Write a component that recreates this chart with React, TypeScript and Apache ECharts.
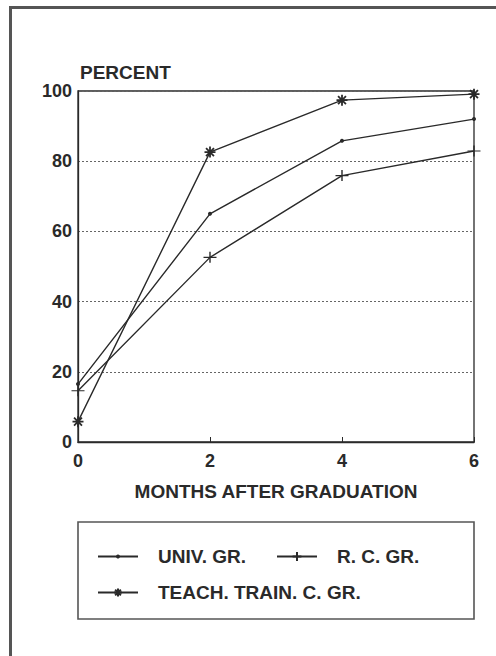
import React, { useEffect, useRef } from "react";
import * as echarts from "echarts";

const months = [0, 2, 4, 6];
const univGr = [16.5, 65, 85.8, 92];
const rcGr = [14.6, 52.6, 75.9, 82.9];
const teachGr = [5.8, 82.6, 97.4, 99.1];
const seriesNames = ["UNIV. GR.", "R. C. GR.", "TEACH. TRAIN. C. GR."];

const FONT = "Liberation Sans, Arial, Helvetica, sans-serif";
const INK = "#2a2a2a";

const plusPath = "path://M0,-5L0,5M-6,0L6,0";
const starPath = "path://M0,-5L0,5M-5,0L5,0M-3.6,-3.6L3.6,3.6M-3.6,3.6L3.6,-3.6";

export default function App() {
  const ref = useRef<HTMLDivElement>(null);
  useEffect(() => {
    if (!ref.current) return;
    const chart = echarts.init(ref.current, undefined, { renderer: "svg" });
    const toPts = (arr: number[]) => months.map((m, i) => [m, arr[i]]);
    const lineStyle = { color: INK, width: 1.4 };
    const legendText = {
      fontFamily: FONT,
      fontSize: 19,
      fontWeight: "bold" as const,
      color: INK,
      padding: [0, 0, 0, 15],
    };
    const legendBase = {
      orient: "horizontal" as const,
      padding: 0,
      itemWidth: 40,
      textStyle: legendText,
      selectedMode: false,
    };
    chart.setOption({
      animation: false,
      backgroundColor: "#fff",
      grid: {
        left: 78,
        right: 22,
        top: 91,
        bottom: 214,
        show: true,
        borderColor: INK,
        borderWidth: 1.3,
        backgroundColor: "transparent",
      },
      xAxis: {
        type: "value",
        min: 0,
        max: 6,
        interval: 2,
        name: "MONTHS AFTER GRADUATION",
        nameLocation: "middle",
        nameGap: 40,
        nameTextStyle: { fontFamily: FONT, fontSize: 19, fontWeight: "bold", color: INK },
        axisLine: { lineStyle: { color: INK, width: 1.3 } },
        axisTick: { inside: true, length: 5, lineStyle: { color: INK } },
        axisLabel: { fontFamily: FONT, fontSize: 18, fontWeight: "bold", color: INK, margin: 10 },
        splitLine: { show: false },
      },
      yAxis: {
        type: "value",
        min: 0,
        max: 100,
        interval: 20,
        name: "PERCENT",
        nameLocation: "end",
        nameGap: 9,
        nameTextStyle: {
          fontFamily: FONT,
          fontSize: 19,
          fontWeight: "bold",
          color: INK,
          align: "left",
          verticalAlign: "bottom",
          padding: [0, 0, 0, 2],
        },
        axisLine: { show: true, lineStyle: { color: INK, width: 1.3 } },
        axisTick: { show: false },
        axisLabel: { fontFamily: FONT, fontSize: 18, fontWeight: "bold", color: INK, margin: 6 },
        splitLine: { show: true, lineStyle: { color: "#666", width: 1, type: [2, 2] } },
      },
      legend: [
        { ...legendBase, itemHeight: 5, data: [seriesNames[0]], left: 97, top: 547 },
        { ...legendBase, itemHeight: 11, data: [seriesNames[1]], left: 276, top: 547 },
        { ...legendBase, itemHeight: 10, data: [seriesNames[2]], left: 97, top: 583 },
      ],
      series: [
        {
          name: seriesNames[0],
          type: "line",
          data: toPts(univGr),
          symbol: "circle",
          symbolSize: 4,
          lineStyle,
          itemStyle: { color: INK, borderColor: INK, borderWidth: 0 },
        },
        {
          name: seriesNames[1],
          type: "line",
          data: toPts(rcGr),
          symbol: plusPath,
          symbolSize: [13, 11],
          lineStyle,
          itemStyle: { color: INK, borderColor: INK, borderWidth: 1.3 },
        },
        {
          name: seriesNames[2],
          type: "line",
          data: toPts(teachGr),
          symbol: starPath,
          symbolSize: 11,
          lineStyle,
          itemStyle: { color: INK, borderColor: INK, borderWidth: 1.8 },
        },
      ],
      graphic: [
        {
          type: "line",
          shape: { x1: 9, y1: 7.5, x2: 496, y2: 7.5 },
          style: { stroke: "#555", lineWidth: 3 },
          silent: true,
        },
        {
          type: "line",
          shape: { x1: 10.5, y1: 6, x2: 10.5, y2: 656 },
          style: { stroke: "#555", lineWidth: 3 },
          silent: true,
        },
        {
          type: "rect",
          shape: { x: 78, y: 522, width: 396, height: 97 },
          style: { fill: "none", stroke: "#555", lineWidth: 1.6 },
          silent: true,
        },
      ],
    });
    return () => chart.dispose();
  }, []);
  return (
    <div
      ref={ref}
      style={{ position: "absolute", left: 0, top: 0, width: 496, height: 656 }}
    />
  );
}
